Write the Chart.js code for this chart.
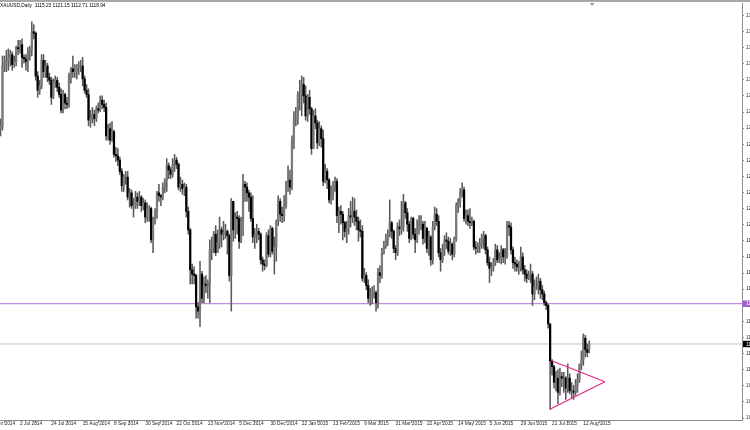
<!DOCTYPE html>
<html><head><meta charset="utf-8">
<script src="https://cdn.jsdelivr.net/npm/chart.js@4.4.1/dist/chart.umd.min.js"></script>
<style>
html,body{margin:0;padding:0;overflow:hidden;background:#fff;width:750px;height:430px}
#wrap{position:absolute;left:0;top:0;width:800px;height:430px}
</style>
</head><body><div id="wrap"><canvas id="c" width="800" height="430"></canvas></div>
<script>
const chartTitle = "XAUUSD,Daily  1115.23 1121.15 1112.71 1118.94";
// bar index 0 = 18 Jun 2014 ... 301 = 17 Aug 2015
const dateTickBars = [-6,10,26,42,58,74,90,106,122,138,154,170,186,202,218,234,250,266,282,298];
const dateTickLabels = ["10 Jun 2014","2 Jul 2014","24 Jul 2014","15 Aug 2014","8 Sep 2014","30 Sep 2014","22 Oct 2014","13 Nov 2014","5 Dec 2014","30 Dec 2014","22 Jan 2015","13 Feb 2015","9 Mar 2015","31 Mar 2015","22 Apr 2015","14 May 2015","5 Jun 2015","29 Jun 2015","21 Jul 2015","12 Aug 2015"];
const priceTicks = [1067.0,1078.3,1089.6,1100.9,1112.2,1123.5,1134.8,1146.1,1157.4,1168.7,1180.0,1191.3,1202.6,1213.9,1225.2,1236.5,1247.8,1259.1,1270.4,1281.7,1293.0,1304.3,1315.6,1326.9,1338.2,1349.5];

const openP = [1270,1272,1314,1316,1318,1320,1322,1315,1317,1327,
1326,1329,1320,1319,1317,1324,1325,1338,1337,1307,
1297,1300,1318,1310,1314,1306,1304,1292,1303,1304,
1299,1294,1283,1294,1288,1287,1307,1312,1310,1310,
1313,1314,1314,1305,1297,1294,1276,1277,1280,1277,
1284,1283,1290,1287,1285,1265,1270,1262,1268,1252,
1251,1248,1240,1230,1236,1236,1222,1225,1216,1216,
1222,1219,1222,1216,1218,1208,1214,1214,1192,1206,
1212,1225,1223,1222,1229,1234,1244,1241,1238,1245,
1248,1245,1229,1231,1228,1229,1212,1199,1171,1168,
1167,1145,1142,1168,1151,1161,1160,1162,1185,1187,
1196,1183,1190,1199,1196,1197,1198,1195,1167,1219,
1199,1208,1207,1191,1205,1231,1229,1225,1222,1207,
1194,1196,1198,1196,1178,1175,1174,1195,1182,1200,
1184,1187,1205,1219,1210,1209,1216,1233,1234,1229,
1261,1277,1277,1294,1294,1301,1293,1279,1292,1284,
1256,1279,1274,1260,1270,1263,1233,1240,1234,1220,
1223,1228,1233,1209,1212,1210,1204,1198,1200,1209,
1208,1212,1208,1205,1199,1198,1165,1167,1160,1151,
1152,1153,1155,1148,1169,1167,1183,1188,1192,1196,
1204,1198,1186,1183,1201,1200,1201,1218,1211,1203,
1193,1207,1196,1192,1200,1203,1203,1193,1200,1186,
1194,1178,1201,1210,1205,1183,1178,1185,1192,1191,
1184,1189,1182,1193,1216,1219,1225,1227,1207,1209,
1205,1204,1205,1187,1186,1188,1189,1193,1195,1185,
1176,1172,1173,1176,1185,1178,1179,1185,1180,1180,
1202,1201,1185,1176,1175,1173,1173,1180,1171,1168,
1165,1167,1168,1154,1159,1159,1163,1157,1154,1148,
1146,1133,1107,1103,1092,1095,1085,1096,1095,1095,
1088,1095,1086,1086,1085,1090,1094,1104,1108,1123,
1115,1115.23];
const highP = [1277,1321,1321,1325,1326,1325,1324,1321,1328,1332,
1332,1333,1322,1322,1327,1328,1345,1343,1338,1310,
1304,1322,1322,1318,1316,1309,1306,1305,1307,1306,
1302,1298,1297,1295,1292,1309,1313,1321,1315,1315,
1317,1318,1320,1307,1301,1298,1283,1285,1283,1286,
1288,1293,1293,1290,1288,1273,1274,1275,1269,1257,
1256,1250,1242,1238,1240,1240,1228,1227,1221,1226,
1225,1226,1223,1221,1220,1218,1216,1215,1208,1214,
1226,1231,1224,1232,1235,1249,1246,1243,1249,1252,
1250,1246,1236,1234,1232,1231,1215,1200,1175,1173,
1168,1148,1177,1170,1166,1167,1164,1192,1194,1198,
1202,1199,1208,1201,1205,1203,1199,1196,1221,1219,
1211,1212,1209,1208,1238,1233,1232,1227,1225,1223,
1200,1203,1200,1197,1180,1178,1197,1199,1202,1201,
1194,1206,1223,1221,1215,1223,1233,1244,1241,1265,
1282,1285,1296,1304,1307,1306,1300,1294,1297,1285,
1283,1284,1276,1275,1272,1269,1245,1242,1235,1230,
1233,1236,1235,1215,1216,1212,1205,1205,1214,1219,
1222,1221,1213,1208,1206,1202,1172,1169,1164,1158,
1159,1160,1156,1172,1174,1186,1191,1196,1199,1220,
1205,1199,1188,1204,1206,1219,1224,1219,1214,1205,
1208,1208,1200,1206,1209,1209,1205,1205,1201,1198,
1195,1205,1215,1214,1209,1186,1189,1195,1197,1194,
1193,1190,1194,1218,1221,1228,1232,1229,1213,1213,
1214,1208,1206,1191,1190,1193,1196,1198,1196,1187,
1180,1176,1179,1189,1188,1183,1188,1186,1186,1205,
1205,1204,1187,1180,1178,1177,1187,1183,1174,1171,
1170,1175,1170,1164,1166,1168,1165,1160,1156,1149,
1147,1133,1108,1104,1100,1101,1102,1099,1099,1096,
1105,1098,1092,1090,1094,1098,1105,1114,1126,1125,
1119,1121.15];
const lowP = [1265,1269,1310,1310,1311,1314,1311,1313,1314,1322,
1323,1313,1316,1311,1310,1318,1321,1333,1304,1292,
1294,1298,1306,1306,1303,1301,1287,1291,1299,1296,
1292,1281,1281,1284,1284,1285,1302,1306,1306,1305,
1308,1310,1300,1295,1292,1272,1271,1274,1272,1275,
1281,1282,1284,1282,1262,1262,1259,1261,1250,1247,
1244,1238,1226,1226,1231,1220,1215,1214,1208,1214,
1214,1216,1212,1213,1204,1205,1205,1190,1183,1203,
1207,1219,1216,1220,1225,1226,1235,1235,1236,1240,
1242,1227,1226,1224,1223,1208,1196,1161,1161,1161,
1137,1137,1131,1148,1148,1155,1151,1148,1178,1183,
1181,1183,1186,1187,1192,1193,1182,1163,1142,1191,
1193,1196,1186,1190,1195,1219,1219,1212,1205,1190,
1186,1190,1192,1175,1170,1171,1173,1180,1180,1182,
1168,1177,1202,1205,1204,1205,1214,1226,1224,1227,
1256,1272,1273,1283,1279,1288,1276,1275,1280,1252,
1256,1270,1256,1258,1257,1230,1232,1228,1218,1217,
1220,1226,1204,1197,1203,1192,1194,1190,1196,1201,
1204,1202,1199,1191,1194,1163,1162,1157,1148,1146,
1147,1151,1142,1144,1162,1165,1182,1186,1188,1194,
1193,1183,1178,1181,1195,1196,1198,1207,1198,1190,
1192,1193,1183,1190,1196,1199,1189,1190,1183,1181,
1174,1175,1199,1202,1180,1170,1176,1181,1186,1182,
1181,1178,1180,1191,1211,1215,1222,1205,1203,1202,
1200,1202,1185,1182,1183,1183,1186,1186,1182,1174,
1162,1167,1170,1174,1176,1176,1175,1176,1175,1179,
1195,1182,1172,1170,1170,1168,1170,1168,1163,1162,
1164,1162,1146,1150,1157,1154,1151,1150,1146,1143,
1130,1073,1097,1088,1086,1077,1083,1089,1085,1080,
1085,1084,1081,1080,1083,1085,1092,1101,1104,1110,
1110,1112.71];
const closeP = [1272,1314,1316,1318,1320,1322,1315,1317,1327,1326,
1329,1320,1319,1317,1324,1325,1338,1337,1307,1297,
1300,1318,1310,1314,1306,1304,1292,1303,1304,1299,
1294,1283,1294,1288,1287,1307,1312,1310,1310,1313,
1314,1314,1305,1297,1294,1276,1277,1280,1277,1284,
1283,1290,1287,1285,1265,1270,1262,1268,1252,1251,
1248,1240,1230,1236,1236,1222,1225,1216,1216,1222,
1219,1222,1216,1218,1208,1214,1214,1192,1206,1212,
1225,1223,1222,1229,1234,1244,1241,1238,1245,1248,
1245,1229,1231,1228,1229,1212,1199,1171,1168,1167,
1145,1142,1168,1151,1161,1160,1162,1185,1187,1196,
1183,1190,1199,1196,1197,1198,1195,1167,1219,1199,
1208,1207,1191,1205,1231,1229,1225,1222,1207,1194,
1196,1198,1196,1178,1175,1174,1195,1182,1200,1184,
1187,1205,1219,1210,1209,1216,1233,1234,1229,1261,
1277,1277,1294,1294,1301,1293,1279,1292,1284,1256,
1279,1274,1260,1270,1263,1233,1240,1234,1220,1223,
1228,1233,1209,1212,1210,1204,1198,1200,1209,1208,
1212,1208,1205,1199,1198,1165,1167,1160,1151,1152,
1153,1155,1148,1169,1167,1183,1188,1192,1196,1204,
1198,1186,1183,1201,1200,1201,1218,1211,1203,1193,
1207,1196,1192,1200,1203,1203,1193,1200,1186,1194,
1178,1201,1210,1205,1183,1178,1185,1192,1191,1184,
1189,1182,1193,1216,1219,1225,1227,1207,1209,1205,
1204,1205,1187,1186,1188,1189,1193,1195,1185,1176,
1172,1173,1176,1185,1178,1179,1185,1180,1180,1202,
1201,1185,1176,1175,1173,1173,1180,1171,1168,1165,
1167,1168,1154,1159,1159,1163,1157,1154,1148,1146,
1133,1107,1103,1092,1095,1085,1096,1095,1095,1088,
1095,1086,1086,1085,1090,1094,1104,1108,1123,1115,
1113,1118.94];

const supportLevel = 1147.2;
const bidPrice = 1118.94;
const pennantUpper = [{x:281.8,y:1107.2},{x:309.0,y:1092.4}];
const pennantLower = [{x:280.9,y:1073.1},{x:309.0,y:1092.4}];

const X_MIN = -0.26, X_MAX = 379.1, Y_MIN = 1065.6, Y_MAX = 1358.2;
const FONT = {family:'"Liberation Sans", "DejaVu Sans", sans-serif', size:4.8};

const wickData = highP.map((h,i)=>({x:i, y:[lowP[i], h]}));
const bodyData = openP.map((o,i)=>({x:i, y:[Math.min(o,closeP[i]), Math.max(o,closeP[i])]}));
const bodyColors = openP.map((o,i)=> closeP[i] >= o ? '#7a7a7a' : '#000000');

const overlay = {
  id:'overlay',
  afterDraw(chart){
    const ctx = chart.ctx, ys = chart.scales.y, xs = chart.scales.x;
    ctx.save();
    ctx.fillStyle = '#a8a8a8';
    ctx.fillRect(0,0,800,2);
    ctx.fillStyle = '#000';
    ctx.font = `${FONT.size}px ${FONT.family}`;
    ctx.textBaseline = 'middle';
    ctx.textAlign = 'left';
    ctx.fillText(chartTitle, 0, 6);
    const mx = xs.getPixelForValue(302.5);
    ctx.fillStyle = '#9a9a9a';
    ctx.beginPath(); ctx.moveTo(mx-2.5,3); ctx.lineTo(mx+2.5,3); ctx.lineTo(mx,6); ctx.closePath(); ctx.fill();
    const right = chart.chartArea.right;
    const tag = (v, bg) => {
      const y = ys.getPixelForValue(v);
      ctx.fillStyle = bg;
      ctx.fillRect(right+1, y-3.2, 40, 6.4);
      ctx.fillStyle = '#fff';
      ctx.fillText(v.toFixed(2), right+4, y+0.3);
    };
    tag(supportLevel, '#a259d4');
    tag(bidPrice, '#000');
    ctx.restore();
  }
};

new Chart(document.getElementById('c'), {
  type:'bar',
  data:{datasets:[
    {type:'line', data:[{x:X_MIN-1,y:bidPrice},{x:X_MAX+1,y:bidPrice}], borderColor:'#c4c4c4', borderWidth:1, pointRadius:0, order:5},
    {type:'line', data:[{x:X_MIN-1,y:supportLevel},{x:X_MAX+1,y:supportLevel}], borderColor:'#c58be4', borderWidth:1.2, pointRadius:0, order:5},
    {data:wickData, backgroundColor:'#5a5a5a', barThickness:0.9, grouped:false, order:3},
    {data:bodyData, backgroundColor:bodyColors, barThickness:1.6, grouped:false, order:2},
    {type:'line', data:pennantUpper, borderColor:'#e8288c', borderWidth:1.2, pointRadius:0, order:1},
    {type:'line', data:pennantLower, borderColor:'#e8288c', borderWidth:1.2, pointRadius:0, order:1}
  ]},
  options:{
    responsive:false, animation:false, events:[],
    layout:{padding:{top:3,left:0,right:0,bottom:0}},
    plugins:{legend:{display:false}, tooltip:{enabled:false}},
    scales:{
      x:{type:'linear', min:X_MIN, max:X_MAX, offset:false,
        grid:{drawOnChartArea:false, tickLength:3, color:'#8c8c8c'},
        border:{display:true, color:'#8c8c8c'},
        afterBuildTicks:s=>{ s.ticks = dateTickBars.map(v=>({value:v})); },
        afterFit:s=>{ s.height = 10; s.paddingLeft = 0; s.paddingRight = 0; },
        ticks:{autoSkip:false, maxRotation:0, minRotation:0, align:'start', padding:-2, color:'#222', font:FONT,
          callback:(v,i)=>dateTickLabels[i]}
      },
      y:{type:'linear', position:'right', min:Y_MIN, max:Y_MAX,
        grid:{drawOnChartArea:false, tickLength:2, color:'#8c8c8c'},
        border:{display:true, color:'#8c8c8c'},
        afterBuildTicks:s=>{ s.ticks = priceTicks.map(v=>({value:v})); },
        afterFit:s=>{ s.width = 58; s.paddingTop = 0; s.paddingBottom = 0; },
        ticks:{autoSkip:false, padding:2, color:'#222', font:FONT, callback:v=>v.toFixed(2)}
      }
    }
  },
  plugins:[overlay]
});
</script></body></html>
